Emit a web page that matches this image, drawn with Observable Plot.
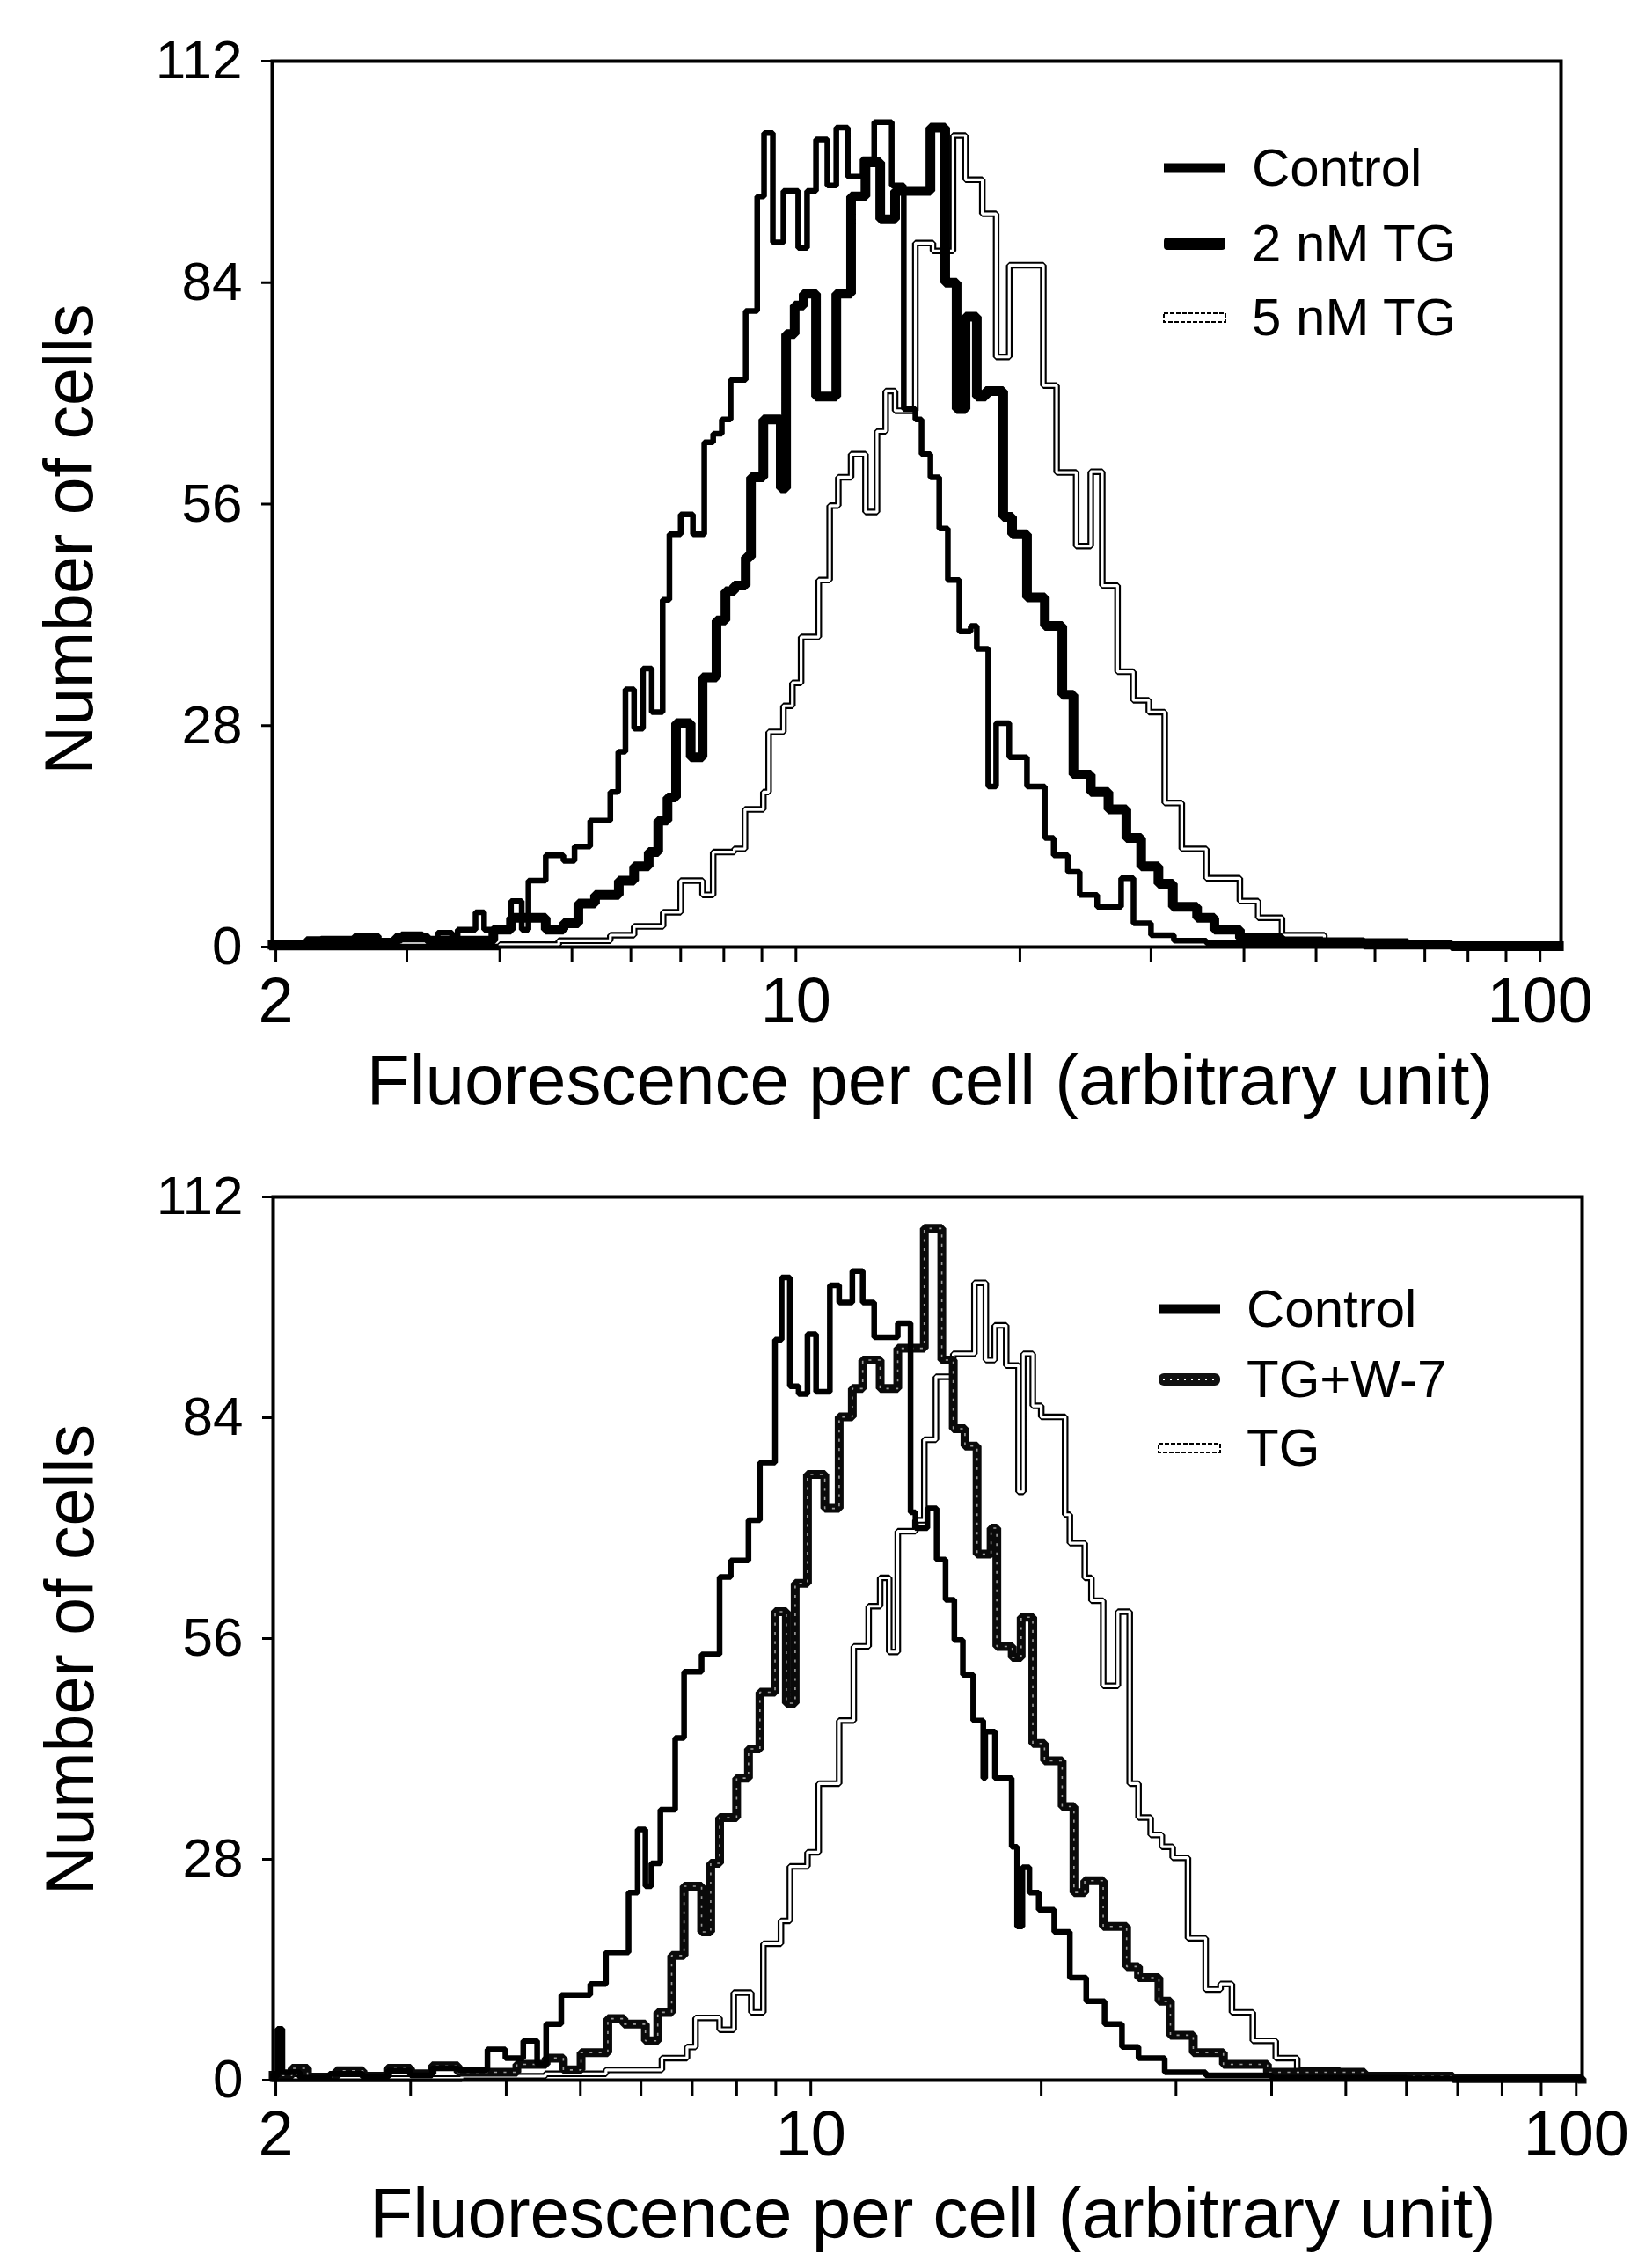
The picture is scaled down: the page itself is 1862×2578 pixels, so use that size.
<!DOCTYPE html>
<html>
<head>
<meta charset="utf-8">
<script src="https://cdn.jsdelivr.net/npm/d3@7"></script>
<script src="https://cdn.jsdelivr.net/npm/@observablehq/plot@0.6"></script>
<style>
html, body { margin: 0; padding: 0; background: #fff; }
#wrap { position: relative; width: 1862px; height: 2578px; overflow: hidden; background: #fff; }
#wrap > svg { display: block; }
.leg { position: absolute; height: 70px; display: flex; align-items: center; font-family: 'Liberation Sans', Arial, Helvetica, sans-serif; font-size: 60px; line-height: 1; color: #000; white-space: nowrap; }
.leg svg { display: block; }
</style>
</head>
<body>
<div id="wrap"></div>
<script>
// ---------- axis / text content ----------
const xTicks = [2, 3, 4, 5, 6, 7, 8, 9, 10, 20, 30, 40, 50, 60, 70, 80, 90, 100];
const xTickLabels = [2, 10, 100];
const yTicks = [0, 28, 56, 84, 112];
const xTitle = "Fluorescence per cell (arbitrary unit)";
const yTitle = "Number of cells";
const topLegendLabels = ["Control", "2 nM TG", "5 nM TG"];
const bottomLegendLabels = ["Control", "TG+W-7", "TG"];

// ---------- top panel: step histograms (bin start, count) ----------
const topControlX = [1.98, 2.2, 2.4, 2.55, 2.75, 2.95, 3.15, 3.3, 3.45, 3.51, 3.71, 3.81, 4.14, 4.28, 4.37, 4.61, 4.87, 5.04, 5.29, 5.63, 5.77, 5.90, 6.06, 6.23, 6.40, 6.62, 6.76, 7.00, 7.27, 7.53, 7.74, 7.95, 8.17, 8.56, 8.87, 9.06, 9.31, 9.62, 10.07, 10.35, 10.64, 11.02, 11.33, 11.74, 12.29, 12.74, 13.45, 13.96, 14.47, 14.75, 15.16, 15.58, 16.0, 16.58, 17.17, 17.50, 18.13, 18.58, 19.35, 20.44, 21.6, 22.2, 23.2, 24.06, 25.4, 27.35, 28.42, 30.0, 32.2, 35.6, 44.2, 58, 75, 106];
const topControlY = [0.5, 1.0, 0.6, 1.4, 0.8, 1.6, 1.0, 1.8, 1.2, 2.2, 4.4, 2.2, 5.8, 2.2, 8.4, 11.6, 10.9, 12.7, 16, 19.6, 24.7, 32.6, 27.6, 35.2, 29.7, 43.9, 52.2, 54.7, 52.2, 63.8, 64.9, 66.7, 71.7, 80.4, 94.9, 102.9, 89.1, 95.6, 88.4, 95.6, 102.1, 96.3, 103.6, 97.4, 99.6, 104.3, 96.3, 68, 66.7, 62.3, 59.4, 52.9, 46.4, 39.9, 40.6, 37.7, 20.3, 28.3, 24, 20.3, 13.8, 11.6, 9.5, 6.6, 5.1, 8.7, 3, 1.5, 0.8, 0.5, 0.3, 0.2, 0.1, 0.1];

const top2nmX = [1.98, 2.3, 2.6, 2.9, 3.2, 3.51, 3.92, 4.14, 4.61, 4.87, 5.10, 5.37, 5.78, 6.06, 6.34, 6.53, 6.72, 6.90, 7.22, 7.49, 7.82, 8.04, 8.26, 8.56, 8.70, 9.04, 9.54, 9.70, 9.96, 10.24, 10.64, 11.33, 11.86, 12.40, 12.98, 13.59, 15.16, 15.87, 16.44, 16.90, 17.50, 17.99, 18.99, 19.52, 20.44, 21.6, 22.8, 23.6, 24.9, 26.3, 27.8, 29.1, 30.7, 32.1, 34.6, 36.5, 39.5, 45.0, 58, 76, 106];
const top2nmY = [0.3, 0.8, 0.5, 1.2, 0.8, 0.8, 2.2, 3.7, 2.2, 3.0, 5.5, 6.6, 8.4, 10.2, 12, 16, 18.9, 28.3, 24, 34.1, 41.3, 45, 45.7, 49.3, 59.4, 66.7, 58, 77.5, 81.1, 82.6, 69.6, 82.6, 94.9, 99.2, 92, 95.6, 103.6, 84, 68, 79.7, 69.6, 70.3, 54.4, 52.2, 44.2, 40.6, 31.9, 21.8, 19.6, 17.4, 13.8, 10.2, 8, 5.1, 3.7, 2.2, 1.1, 0.6, 0.3, 0.1, 0.1];

const top5nmX = [1.98, 4.0, 4.8, 5.0, 5.63, 6.06, 6.63, 7.0, 7.49, 7.74, 8.26, 8.54, 9.04, 9.19, 9.62, 9.89, 10.16, 10.73, 11.1, 11.4, 11.86, 12.4, 12.85, 13.2, 13.59, 14.47, 15.28, 16.26, 16.9, 17.8, 18.58, 19.35, 21.5, 22.4, 23.8, 24.9, 25.8, 27.05, 28.4, 29.8, 31.3, 33.0, 35.6, 39.5, 41.8, 45.0, 51.3, 66.4, 106];
const top5nmY = [0, 0.3, 0.8, 0.8, 1.5, 2.6, 4.4, 8.4, 6.6, 12, 12.4, 17.4, 19.6, 27.2, 30.5, 33.4, 39.2, 46.4, 55.8, 59.4, 62.3, 55, 65.2, 70.3, 67.8, 89, 88, 102.6, 97, 92.7, 74.6, 86.2, 71, 60, 50.7, 60.1, 45.7, 34.8, 31.2, 29.7, 18.2, 12.4, 8.7, 5.8, 3.7, 1.5, 0.7, 0.3, 0.1];

// ---------- bottom panel ----------
const botControlX = [1.984, 2.01, 2.04, 2.15, 2.35, 2.6, 2.8, 3.0, 3.2, 3.46, 3.78, 3.99, 4.21, 4.39, 4.51, 4.72, 5.15, 5.40, 5.78, 5.94, 6.08, 6.19, 6.36, 6.65, 6.83, 7.2, 7.6, 7.86, 8.29, 8.58, 8.98, 9.16, 9.39, 9.64, 9.9, 10.16, 10.59, 10.89, 11.33, 11.69, 12.1, 12.99, 13.5, 13.7, 14.2, 14.6, 15.0, 15.4, 15.8, 16.3, 16.8, 16.9, 17.4, 18.3, 18.6, 18.9, 19.3, 19.85, 20.8, 21.8, 22.9, 24.2, 25.5, 26.8, 29.0, 32.8, 40, 60, 101.8];
const botControlY = [0.5, 6.5, 1.0, 0.3, 0.8, 0.4, 1.2, 0.6, 1.5, 1.3, 3.9, 2.8, 5, 2, 7.1, 10.8, 12.2, 16.2, 23.8, 31.8, 24.6, 27.5, 34.3, 43.4, 51.8, 54, 63.8, 65.9, 71, 78.3, 93.9, 101.8, 88, 87, 94.6, 87.3, 100.8, 98.6, 102.6, 98.6, 94.2, 96, 72, 70, 72.5, 66, 60.9, 55.8, 51.4, 45.6, 38.3, 44.2, 38.3, 29.6, 19.5, 27, 23.8, 21.6, 18.8, 13, 10, 7.1, 4.2, 2.8, 1, 0.6, 0.3, 0.2, 0.1];

const botW7X = [1.984, 2.1, 2.2, 2.4, 2.6, 2.8, 3.0, 3.2, 3.46, 4.13, 4.51, 4.75, 5.01, 5.43, 5.70, 6.08, 6.31, 6.58, 6.83, 7.2, 7.4, 7.6, 8.0, 8.29, 8.58, 8.98, 9.29, 9.54, 9.9, 10.43, 10.89, 11.33, 11.69, 12.32, 12.99, 14.07, 14.83, 15.35, 15.9, 16.49, 17.2, 17.5, 18.33, 18.83, 19.5, 20.2, 21.3, 22.07, 22.8, 24.1, 25.86, 26.8, 28.5, 29.5, 31.6, 34.6, 39.5, 52.9, 69, 101.8];
const botW7Y = [0.6, 1.5, 0.4, 1.2, 0.5, 1.5, 0.8, 1.8, 1, 2, 2.8, 1.3, 3.5, 7.8, 7.1, 5, 8.6, 15.8, 24.6, 18.8, 27.5, 33.3, 38.3, 42, 49.2, 59.4, 47.8, 63, 76.8, 72.5, 84.1, 87.7, 91.3, 87.7, 92.8, 108, 91.3, 82.6, 80.4, 66.7, 70, 55, 53.6, 58.7, 42.7, 40.5, 34.7, 23.8, 25.3, 19.5, 14.4, 13, 10, 5.7, 3.5, 2, 1, 0.5, 0.2, 0.1];

const botTGX = [1.984, 3.5, 4.5, 5.4, 6.39, 6.89, 7.07, 7.6, 7.93, 8.36, 8.67, 9.14, 9.39, 9.9, 10.24, 10.89, 11.38, 11.9, 12.32, 12.66, 12.99, 13.7, 14.07, 14.57, 15.35, 16.36, 16.93, 17.39, 18.0, 18.68, 18.95, 19.5, 20.0, 21.49, 21.8, 22.8, 23.26, 24.1, 25.19, 26.1, 26.8, 27.8, 28.75, 29.7, 31.1, 32.8, 34.3, 35.5, 37.8, 40.5, 43.2, 49, 60.3, 101.8];
const botTGY = [0.2, 0.5, 0.8, 1.3, 2.8, 4.2, 7.9, 6.4, 11.1, 8.6, 17.3, 20.2, 27.1, 28.9, 37.6, 45.6, 55, 60.1, 63.7, 54.3, 69.6, 71, 81.2, 89.2, 92.1, 101.1, 91.3, 95.7, 90.6, 74.6, 92.1, 85.5, 84.1, 71.7, 68.1, 63.7, 60.8, 50, 59.4, 37.6, 33.3, 31.1, 29.6, 28.2, 18.0, 11.5, 12.2, 8.6, 5, 2.8, 1.3, 0.6, 0.3, 0.1];

// ---------- rendering ----------
const FONT = "'Liberation Sans', Arial, Helvetica, sans-serif";

function pairs(xs, ys) {
  const n = Math.min(xs.length, ys.length);
  return d3.range(n).map(i => ({x: xs[i], y: ys[i]}));
}

function lineMarks(data, style) {
  const base = {x: "x", y: "y", curve: "step-after", strokeLinejoin: "miter", strokeLinecap: "square"};
  if (style === "solid") return [Plot.line(data, {...base, stroke: "#000", strokeWidth: 6.5})];
  if (style === "thick") return [Plot.line(data, {...base, stroke: "#000", strokeWidth: 11})];
  if (style === "dotted") return [
    Plot.line(data, {...base, stroke: "#0a0a0a", strokeWidth: 10}),
    Plot.line(data, {...base, stroke: "#fff", strokeWidth: 1.6, strokeDasharray: "1.5 9", strokeOpacity: 0.6})
  ];
  // hollow
  return [
    Plot.line(data, {...base, stroke: "#000", strokeWidth: 7.5}),
    Plot.line(data, {...base, stroke: "#fff", strokeWidth: 3.2})
  ];
}

function panel(cfg) {
  const marks = [];
  for (const s of cfg.series) marks.push(...lineMarks(pairs(s.xs, s.ys), s.style));
  return Plot.plot({
    width: 1862,
    height: cfg.height,
    marginTop: cfg.marginTop,
    marginRight: cfg.marginRight,
    marginBottom: cfg.marginBottom,
    marginLeft: cfg.marginLeft,
    x: {type: "log", domain: cfg.xDomain},
    y: {domain: [0, 112]},
    style: {fontFamily: FONT, background: "#fff", color: "#000", overflow: "visible"},
    marks: [
      ...marks,
      Plot.frame({stroke: "#000", strokeWidth: 4}),
      Plot.axisX(xTicks, {
        tickSize: 18, tickPadding: 16, strokeWidth: 3, fontSize: 72, label: null,
        tickFormat: d => xTickLabels.includes(d) ? String(d) : ""
      }),
      Plot.axisY(yTicks, {tickSize: 12, tickPadding: 22, strokeWidth: 3, fontSize: 62, label: null}),
      Plot.text([xTitle], {text: d => d, frameAnchor: "bottom", textAnchor: "middle", lineAnchor: "middle", dx: cfg.xTitleDx, dy: 153, fontSize: 80}),
      Plot.text([yTitle], {text: d => d, frameAnchor: "left", textAnchor: "middle", lineAnchor: "middle", rotate: -90, dx: -229, dy: cfg.yTitleDy, fontSize: 77})
    ]
  });
}

const wrap = document.getElementById("wrap");

wrap.appendChild(panel({
  height: 1290, marginTop: 69, marginRight: 88, marginBottom: 214, marginLeft: 309,
  xDomain: [1.978, 106.7], xTitleDx: 15, yTitleDy: 40,
  series: [
    {xs: top5nmX, ys: top5nmY, style: "hollow"},
    {xs: top2nmX, ys: top2nmY, style: "thick"},
    {xs: topControlX, ys: topControlY, style: "solid"}
  ]
}));

wrap.appendChild(panel({
  height: 1288, marginTop: 70, marginRight: 64, marginBottom: 214, marginLeft: 310,
  xDomain: [1.984, 101.8], xTitleDx: 6, yTitleDy: 24,
  series: [
    {xs: botTGX, ys: botTGY, style: "hollow"},
    {xs: botW7X, ys: botW7Y, style: "dotted"},
    {xs: botControlX, ys: botControlY, style: "solid"}
  ]
}));

// ---------- legends (HTML overlay) ----------
function sample(style) {
  const ns = "http://www.w3.org/2000/svg";
  const svg = document.createElementNS(ns, "svg");
  svg.setAttribute("width", 76); svg.setAttribute("height", 24);
  const r = document.createElementNS(ns, "rect");
  r.setAttribute("x", 3); r.setAttribute("width", 70);
  if (style === "solid") { r.setAttribute("y", 6.5); r.setAttribute("height", 11); r.setAttribute("fill", "#000"); }
  else if (style === "thick") { r.setAttribute("y", 5); r.setAttribute("height", 14); r.setAttribute("rx", 4); r.setAttribute("fill", "#000"); }
  else if (style === "dotted") { r.setAttribute("y", 5); r.setAttribute("height", 14); r.setAttribute("rx", 6); r.setAttribute("fill", "#111"); }
  else { r.setAttribute("y", 7); r.setAttribute("height", 10); r.setAttribute("fill", "#fff"); r.setAttribute("stroke", "#000"); r.setAttribute("stroke-width", 2); r.setAttribute("stroke-dasharray", "5 2"); }
  svg.appendChild(r);
  if (style === "dotted") {
    const l = document.createElementNS(ns, "line");
    l.setAttribute("x1", 8); l.setAttribute("x2", 68); l.setAttribute("y1", 12); l.setAttribute("y2", 12);
    l.setAttribute("stroke", "#fff"); l.setAttribute("stroke-width", 2); l.setAttribute("stroke-dasharray", "2 6");
    svg.appendChild(l);
  }
  return svg;
}

function legend(labels, styles, sampleLeft, textLeft, rowCenters) {
  labels.forEach((lab, i) => {
    const s = document.createElement("div");
    s.className = "leg";
    s.style.left = (sampleLeft - 3) + "px";
    s.style.top = (rowCenters[i] - 35) + "px";
    s.appendChild(sample(styles[i]));
    wrap.appendChild(s);
    const t = document.createElement("div");
    t.className = "leg";
    t.style.left = textLeft + "px";
    t.style.top = (rowCenters[i] - 35) + "px";
    t.textContent = lab;
    wrap.appendChild(t);
  });
}

legend(topLegendLabels, ["solid", "thick", "hollow"], 1323, 1423, [191, 277, 361]);
legend(bottomLegendLabels, ["solid", "dotted", "hollow"], 1317, 1417, [1488, 1568, 1646]);
</script>
</body>
</html>
